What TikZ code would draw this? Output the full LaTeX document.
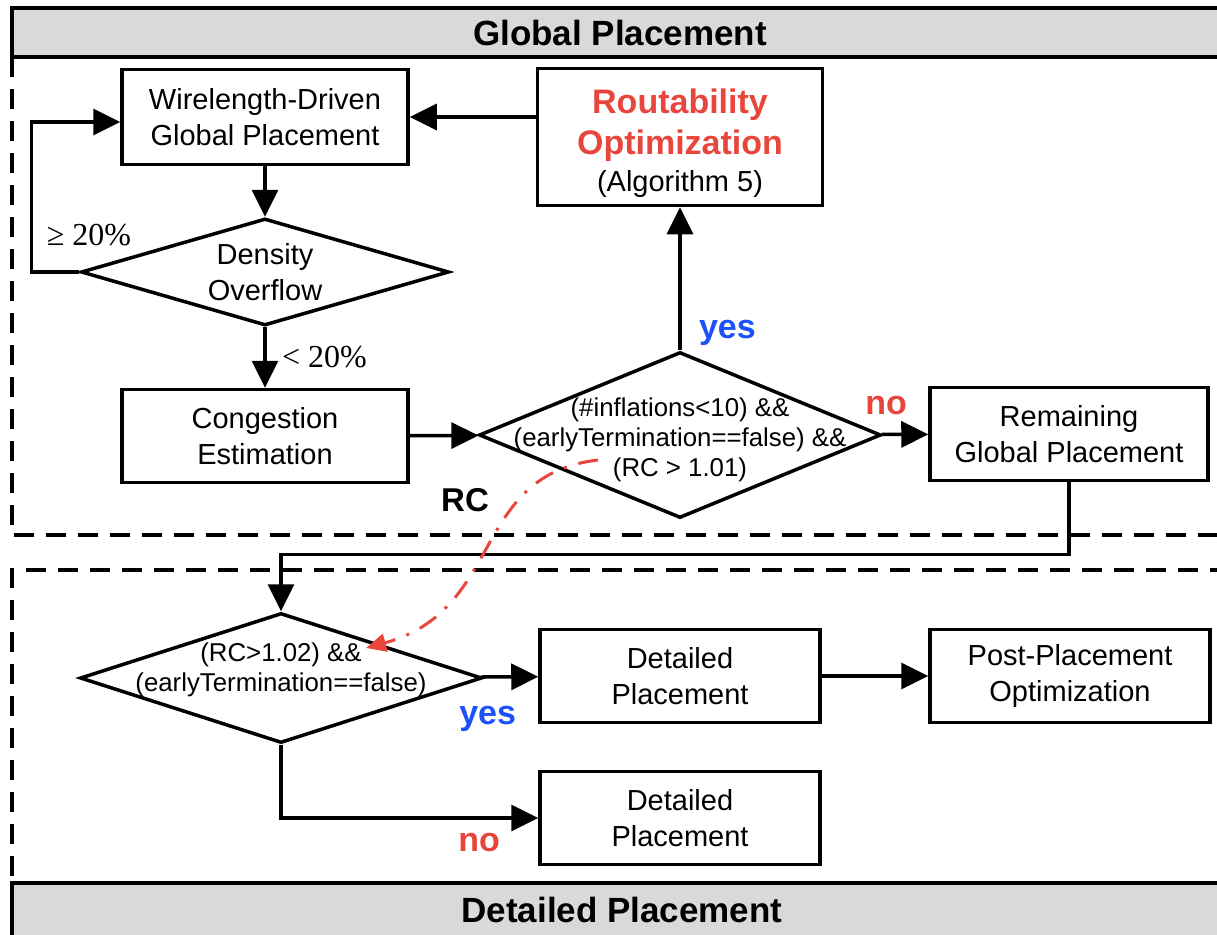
\documentclass[tikz,border=0pt]{standalone}
\usepackage{fontspec}
\setmainfont{Liberation Sans}
\newfontfamily\pctfont{Liberation Serif}
\usetikzlibrary{shapes.geometric,arrows.meta}
\definecolor{hdrgray}{RGB}{217,217,217}
\definecolor{nored}{RGB}{232,69,60}
\definecolor{yesblue}{RGB}{30,80,250}

\begin{document}
\begin{tikzpicture}[x=1pt, y=-1pt,
        line width=3.5pt,
        >={Triangle[length=27pt,width=26pt]},
        box/.style={draw, rectangle, inner sep=0pt,
            minimum width=282pt, minimum height=93pt,
            align=center, font=\fontsize{29}{36}\selectfont},
        dia/.style={draw, diamond, inner sep=0pt},
        cond/.style={align=center, font=\fontsize{25.8}{30}\selectfont},
        yeslbl/.style={text=yesblue, font=\bfseries\fontsize{34}{40}\selectfont},
        nolbl/.style={text=nored, font=\bfseries\fontsize{34}{40}\selectfont},
        pct/.style={font=\pctfont\fontsize{32}{38}\selectfont},
        zone/.style={dash pattern=on 20pt off 12pt},
        hdr/.style={font=\bfseries\fontsize{35}{40}\selectfont},
        rcpath/.style={nored, line width=3pt,
            dash pattern=on 20pt off 12pt on 3pt off 12pt,
            -{Triangle[length=20pt,width=18pt]}}]
                \useasboundingbox (0,0) rectangle (1217,934);
                \clip (0,0) rectangle (1217,934);

                % headers and the two dashed zones
                \filldraw[fill=hdrgray] (12,8) rectangle (1240,57);
                \node[hdr] (gphdr) at (620,33) {Global Placement};
                \filldraw[fill=hdrgray] (12,883) rectangle (1240,950);
                \node[hdr] (dphdr) at (622,910) {Detailed Placement};
                \draw[zone] (12,57) -- (12,535) -- (1230,535);
                \draw[zone] (1230,570) -- (12,570) -- (12,883);

                % global placement
                \node[box, minimum width=286pt, minimum height=95pt] (wl) at (265,117)
                    {Wirelength-Driven\\Global Placement};
                \node[box, minimum width=285pt, minimum height=137pt] (ro) at (680,137)
                    {\rule{0pt}{38pt}\textcolor{nored}{\bfseries\fontsize{34}{40}\selectfont Routability}\\[5pt]
                     \textcolor{nored}{\bfseries\fontsize{34}{40}\selectfont Optimization}\\[1pt]
                     (Algorithm 5)};
                \node[dia, aspect=3.44, minimum width=368pt, minimum height=107pt,
                    align=center, font=\fontsize{29}{36}\selectfont] (dens) at (265,272)
                    {Density\\Overflow};
                \node[box, minimum width=286pt] (cg) at (265,436)
                    {Congestion\\Estimation};
                \node[dia, aspect=2.42, minimum width=402pt, minimum height=166pt,
                    label={[cond, yshift=-5pt]center:{(\#inflations<10) \&\&\\
                        (earlyTermination==false) \&\&\\(RC > 1.01)}}] (rc) at (680,435) {};
                \node[box, minimum width=278pt] (rem) at (1069,434)
                    {Remaining\\Global Placement};

                % detailed placement
                \node[dia, aspect=3.09, minimum width=402pt, minimum height=130pt,
                    label={[cond, yshift=8pt]center:{(RC>1.02) \&\&\\
                        (earlyTermination==false)}}] (gate) at (281,678) {};
                \node[box, minimum width=280pt] (dp1) at (680,676)
                    {Detailed\\Placement};
                \node[box, minimum width=280pt] (post) at (1070,676)
                    {Post-Placement\\Optimization};
                \node[box, minimum width=280pt] (dp2) at (680,818)
                    {Detailed\\Placement};

                \coordinate (rcfrom) at (598,460);
                \coordinate (rcto) at (366,648);

                \path[->]
                (wl) edge (dens)
                (dens) edge node[pct, right=12pt, pos=0.5] {< 20\%} (cg)
                (cg) edge (rc)
                (rc) edge node[yeslbl, right=14pt, pos=0.12] {yes} (ro)
                     edge node[nolbl, above=15pt, pos=0.1] {no} (rem)
                (gate) edge node[yeslbl, below=24pt, pos=0.12] {yes} (dp1)
                (dp1) edge (post);
                \draw[->] (ro.west |- wl.east) -- (wl.east);
                \draw[->] (dens.west) -- ++(-48,0) |- ([yshift=-5pt]wl.west);
                \node[pct] (ge) at (89,235) {≥ 20\%};
                \draw[->] (rem.south) -- ++(0,72) -| (gate.north);
                \draw[->] (gate.south) |- node[nolbl, below=10pt, pos=0.885] {no} (dp2.west);
                \draw[rcpath] (rcfrom) .. controls (470,475) and (505,610) ..
                    node[left=24pt, pos=0.3, text=black, font=\bfseries\fontsize{33}{40}\selectfont] {RC} (rcto);
            \end{tikzpicture}
\end{document}
